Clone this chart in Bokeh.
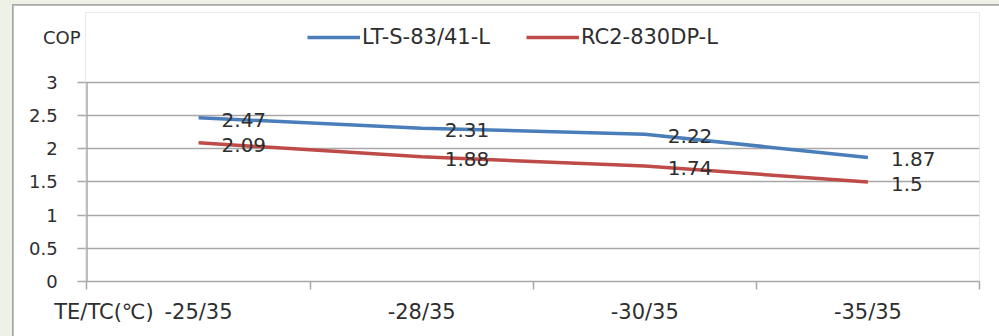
from bokeh.plotting import figure
from bokeh.layouts import column
from bokeh.models import (Range1d, FixedTicker, Legend, LegendItem, ColumnDataSource)
from bokeh.core.properties import value
from bokeh.embed import file_html
from bokeh.resources import INLINE

categories = ["-25/35", "-28/35", "-30/35", "-35/35"]
series_names = ["LT-S-83/41-L", "RC2-830DP-L"]
lt_values = [2.47, 2.31, 2.22, 1.87]
rc_values = [2.09, 1.88, 1.74, 1.5]
lt_labels = ["2.47", "2.31", "2.22", "1.87"]
rc_labels = ["2.09", "1.88", "1.74", "1.5"]
y_ticks = [0, 0.5, 1, 1.5, 2, 2.5, 3]
y_tick_labels = ["0", "0.5", "1", "1.5", "2", "2.5", "3"]
y_title = "COP"
x_title = "TE/TC(℃)"

FONT = "DejaVu Sans"
TXT = "#2e2e2e"
GRID = "#a8a8a8"
BLUE = "#4a7ebb"
RED = "#be4b48"
NBSP = "\u00a0"

n = len(categories)
xs = [i + 0.5 for i in range(n)]
y_title_pos = 3.678
x_title_pos = 0.076

p = figure(width=986, height=331, output_backend="svg", toolbar_location=None,
           x_range=Range1d(-0.0067, n), y_range=Range1d(0, 4.055),
           min_border_left=72, min_border_right=20, min_border_top=7, min_border_bottom=55)
p.border_fill_color = "white"
p.background_fill_color = "white"
p.outline_line_color = None

# x axis: category labels + axis title as labels, boundary ticks as minor ticks
xa = p.xaxis[0]
xa.ticker = FixedTicker(ticks=[x_title_pos] + xs, minor_ticks=list(range(n + 1)))
ov = {x: c for x, c in zip(xs, categories)}
ov[x_title_pos] = x_title
xa.major_label_overrides = ov
xa.major_tick_line_color = None
xa.major_tick_out = 0
xa.major_tick_in = 0
xa.minor_tick_line_color = GRID
xa.minor_tick_line_width = 1.5
xa.minor_tick_out = 8
xa.minor_tick_in = 0
xa.axis_line_color = GRID
xa.axis_line_width = 1.5
xa.major_label_text_font = FONT
xa.major_label_text_font_size = "21px"
xa.major_label_text_color = TXT
xa.major_label_standoff = 10

# y axis: tick marks as minor ticks, labels padded so the title can sit closer to the axis
ya = p.yaxis[0]
ya.ticker = FixedTicker(ticks=y_ticks + [y_title_pos], minor_ticks=y_ticks)
yov = {t: l + NBSP * 4 for t, l in zip(y_ticks, y_tick_labels)}
yov[y_title_pos] = y_title
ya.major_label_overrides = yov
ya.major_tick_line_color = None
ya.major_tick_out = 0
ya.major_tick_in = 0
ya.minor_tick_line_color = GRID
ya.minor_tick_line_width = 1.5
ya.minor_tick_out = 8
ya.minor_tick_in = 0
ya.axis_line_color = None
ya.major_label_text_font = FONT
ya.major_label_text_font_size = "18px"
ya.major_label_text_color = TXT
ya.major_label_standoff = -3

p.xgrid.grid_line_color = None
p.ygrid.ticker = FixedTicker(ticks=y_ticks)
p.ygrid.grid_line_color = GRID
p.ygrid.grid_line_width = 1.5

# y axis line from 0 to 3 at x = 0
p.segment(x0=[0], y0=[y_ticks[0]], x1=[0], y1=[y_ticks[-1]], line_color=GRID, line_width=1.5)

src = ColumnDataSource(dict(x=xs, lt=lt_values, rc=rc_values, ltl=lt_labels, rcl=rc_labels))
r1 = p.line("x", "lt", source=src, line_color=BLUE, line_width=3.5)
r2 = p.line("x", "rc", source=src, line_color=RED, line_width=3.5)
for col, lab in (("lt", "ltl"), ("rc", "rcl")):
    p.text("x", col, text=lab, source=src, x_offset=23, y_offset=2,
           text_font=value(FONT), text_font_size="20px", text_color=TXT,
           text_align="left", text_baseline="middle")

legend = Legend(items=[LegendItem(label=series_names[0], renderers=[r1]),
                       LegendItem(label=series_names[1], renderers=[r2])],
                orientation="horizontal", location=(222, 232))
legend.glyph_width = 53
legend.glyph_height = 20
legend.label_standoff = 2
legend.spacing = 36
legend.padding = 0
legend.margin = 0
legend.border_line_color = None
legend.background_fill_alpha = 0
legend.label_text_font = FONT
legend.label_text_font_size = "21px"
legend.label_text_color = TXT
p.add_layout(legend, "center")

inner = column(p, styles={"background-color": "#a9a9a9", "padding": "1px 0 0 1px"})
outer = column(inner, styles={"background-color": "#eef1e6", "padding": "4px 0 0 12px"})

open("out.html", "w").write(file_html(outer, INLINE))
